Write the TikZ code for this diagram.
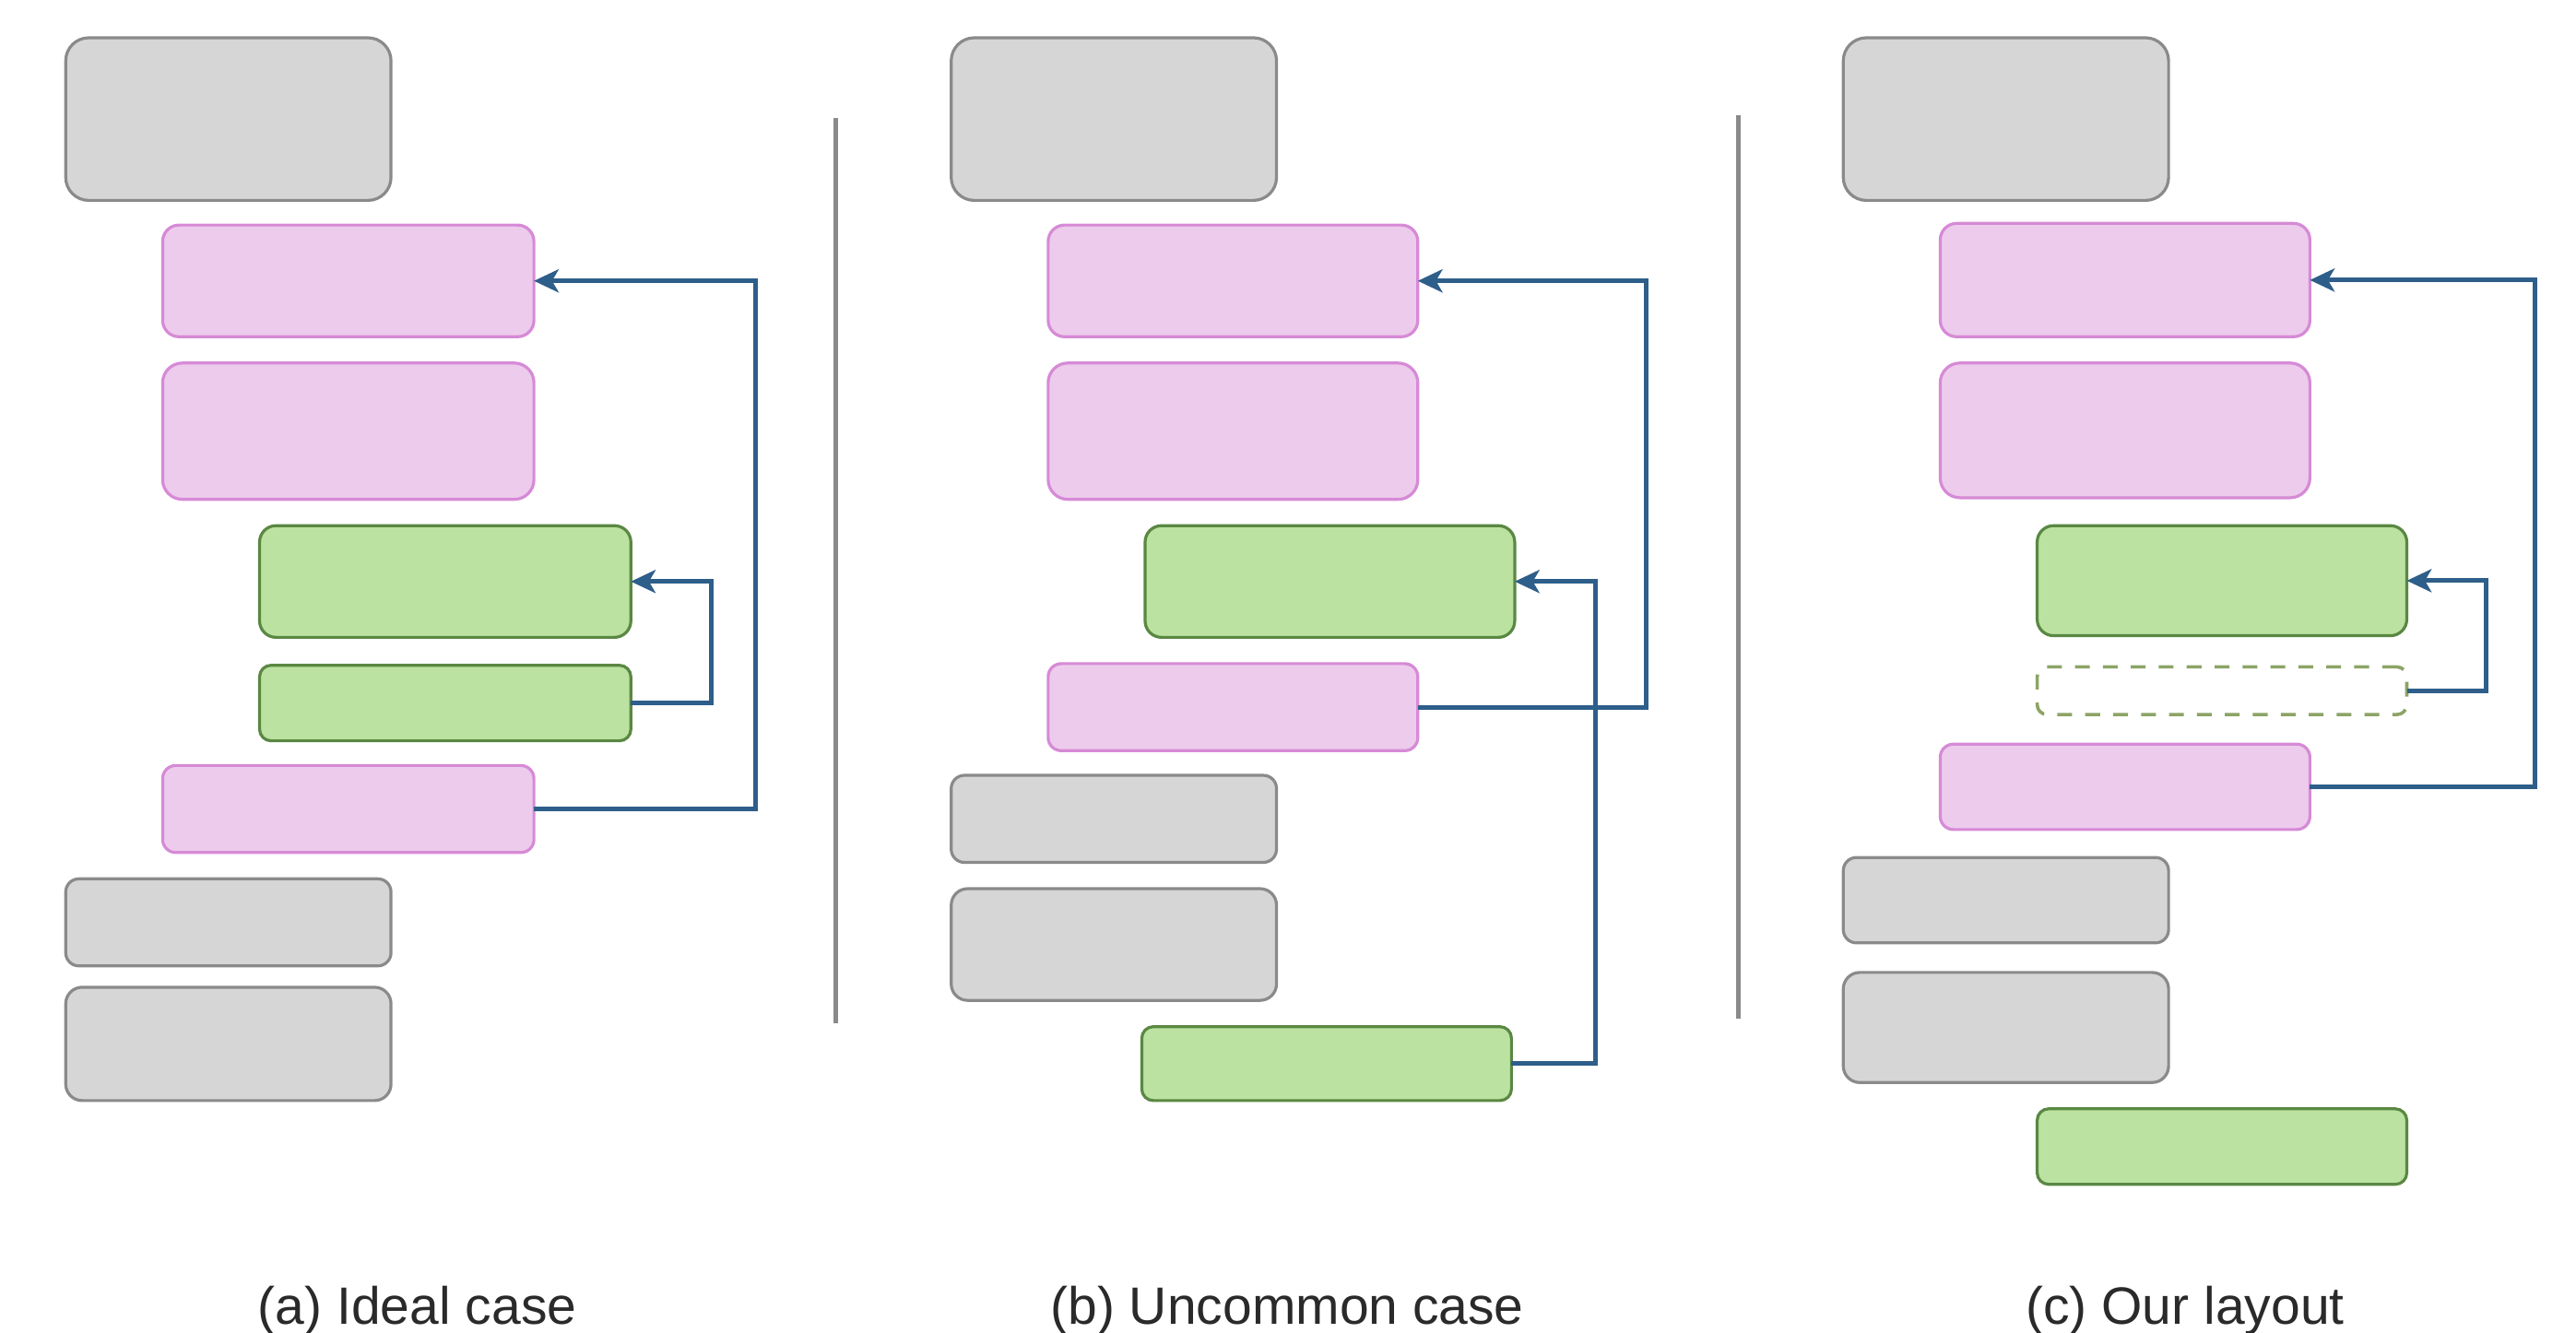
\documentclass[tikz,border=0pt]{standalone}
\usepackage{fontspec}
\setmainfont{Liberation Sans}
\usetikzlibrary{arrows.meta}
\definecolor{grayfill}{HTML}{D6D6D6}
\definecolor{graydraw}{HTML}{8A8A8A}
\definecolor{pinkfill}{HTML}{EDCBEC}
\definecolor{pinkdraw}{HTML}{D68AD6}
\definecolor{greenfill}{HTML}{BBE2A0}
\definecolor{greendraw}{HTML}{5A8843}
\definecolor{dashdraw}{HTML}{8CA466}
\definecolor{arrowblue}{HTML}{2E5E8A}
\definecolor{dividercol}{HTML}{8A8A8A}
\definecolor{captext}{HTML}{2A2A2A}
\tikzset{
 blk/.style={rectangle, inner sep=0pt, outer sep=0pt, anchor=north west, line width=1.8pt},
 graybox/.style={blk, fill=grayfill, draw=graydraw},
 pinkbox/.style={blk, fill=pinkfill, draw=pinkdraw},
 greenbox/.style={blk, fill=greenfill, draw=greendraw},
 ghostbox/.style={blk, fill=white, draw=dashdraw, dash pattern=on 9pt off 8pt, line width=2pt},
 link/.style={draw=arrowblue, line width=2.8pt, -{Stealth[length=15pt,width=14pt,inset=4pt]}},
 divline/.style={draw=dividercol, line width=2.8pt},
 caption/.style={anchor=base, text=captext, inner sep=0pt, font=\fontsize{32}{38}\selectfont},
}
\begin{document}
\begin{tikzpicture}[x=1pt,y=-1pt]
\useasboundingbox (0,0) rectangle (1568,811);
% ---------- panel (a)
\node[graybox, minimum width=198pt, minimum height=99pt, rounded corners=14pt] (ga1) at (40,23) {};
\node[pinkbox, minimum width=226pt, minimum height=68pt, rounded corners=10pt] (pa1) at (99,137) {};
\node[pinkbox, minimum width=226pt, minimum height=83pt, rounded corners=12pt] (pa2) at (99,221) {};
\node[greenbox, minimum width=226pt, minimum height=68pt, rounded corners=10pt] (ea1) at (158,320) {};
\node[greenbox, minimum width=226pt, minimum height=46pt, rounded corners=7pt] (ea2) at (158,405) {};
\node[pinkbox, minimum width=226pt, minimum height=53pt, rounded corners=8pt] (pa3) at (99,466) {};
\node[graybox, minimum width=198pt, minimum height=53pt, rounded corners=8pt] (ga2) at (40,535) {};
\node[graybox, minimum width=198pt, minimum height=69pt, rounded corners=10pt] (ga3) at (40,601) {};
\draw[link] (pa3.east) -- ++(135,0) |- (pa1.east);
\draw[link] (ea2.east) -- ++(49,0) |- (ea1.east);
% divider
\coordinate (d1t) at (509,72);
\coordinate (d1b) at (509,623);
\draw[divline] (d1t) -- (d1b);
% ---------- panel (b)
\node[graybox, minimum width=198pt, minimum height=99pt, rounded corners=14pt] (gb1) at (579,23) {};
\node[pinkbox, minimum width=225pt, minimum height=68pt, rounded corners=10pt] (pb1) at (638,137) {};
\node[pinkbox, minimum width=225pt, minimum height=83pt, rounded corners=12pt] (pb2) at (638,221) {};
\node[greenbox, minimum width=225pt, minimum height=68pt, rounded corners=10pt] (eb1) at (697,320) {};
\node[pinkbox, minimum width=225pt, minimum height=53pt, rounded corners=8pt] (pb3) at (638,404) {};
\node[graybox, minimum width=198pt, minimum height=53pt, rounded corners=8pt] (gb2) at (579,472) {};
\node[graybox, minimum width=198pt, minimum height=68pt, rounded corners=10pt] (gb3) at (579,541) {};
\node[greenbox, minimum width=225pt, minimum height=45pt, rounded corners=7pt] (eb2) at (695,625) {};
\draw[link] (pb3.east) -- ++(139,0) |- (pb1.east);
\draw[link] (eb2.east) -- ++(51,0) |- (eb1.east);
% divider
\coordinate (d2t) at (1058,70);
\coordinate (d2b) at (1058,620);
\draw[divline] (d2t) -- (d2b);
% ---------- panel (c)
\node[graybox, minimum width=198pt, minimum height=99pt, rounded corners=14pt] (gc1) at (1122,23) {};
\node[pinkbox, minimum width=225pt, minimum height=69pt, rounded corners=10pt] (pc1) at (1181,136) {};
\node[pinkbox, minimum width=225pt, minimum height=82pt, rounded corners=12pt] (pc2) at (1181,221) {};
\node[greenbox, minimum width=225pt, minimum height=67pt, rounded corners=10pt] (ec1) at (1240,320) {};
\node[ghostbox, minimum width=225pt, minimum height=29pt, rounded corners=6pt] (dc) at (1240,406) {};
\node[pinkbox, minimum width=225pt, minimum height=52pt, rounded corners=8pt] (pc3) at (1181,453) {};
\node[graybox, minimum width=198pt, minimum height=52pt, rounded corners=8pt] (gc2) at (1122,522) {};
\node[graybox, minimum width=198pt, minimum height=67pt, rounded corners=10pt] (gc3) at (1122,592) {};
\node[greenbox, minimum width=225pt, minimum height=46pt, rounded corners=7pt] (ec2) at (1240,675) {};
\draw[link] (pc3.east) -- ++(137,0) |- (pc1.east);
\draw[link] (dc.east) -- ++(48,0) |- (ec1.east);
% ---------- captions
\node[caption] (capa) at (254,806) {(a) Ideal case};
\node[caption] (capb) at (783.5,806) {(b) Uncommon case};
\node[caption] (capc) at (1330,806) {(c) Our layout};
\end{tikzpicture}
\end{document}
